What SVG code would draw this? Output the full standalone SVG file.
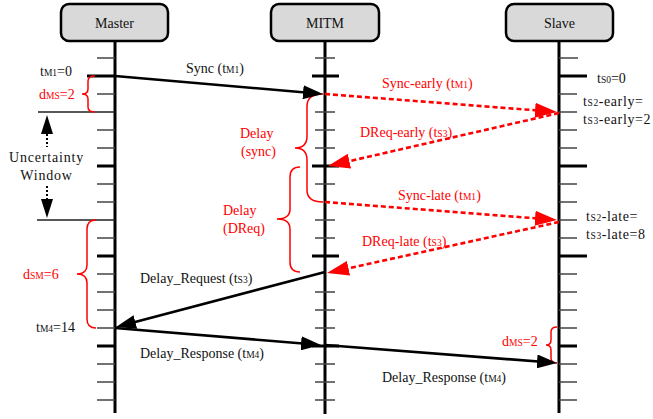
<svg xmlns="http://www.w3.org/2000/svg" width="653" height="419" viewBox="0 0 653 419" font-family="'Liberation Serif', 'DejaVu Serif', 'Times New Roman', Times, serif">
  <style>
    text { font-size: 14px; fill: #111; }
    .red { fill: #ff0000; }
    .sub { font-size: 9.5px; }
    .hdr rect { fill: #d9d9d9; stroke: #000; stroke-width: 2.5; }
    .life { stroke: #000; stroke-width: 3; }
    .tick { stroke: #444; stroke-width: 1.5; }
    .major { stroke: #000; stroke-width: 3; }
    .guide { stroke: #222; stroke-width: 1.3; }
    .msg { stroke: #000; stroke-width: 2.6; fill: none; }
    .atk { stroke: #ff0000; stroke-width: 2.6; fill: none; stroke-dasharray: 5 3; }
    .brace { stroke: #ff0000; stroke-width: 1.5; fill: none; }
  </style>
  <defs>
    <marker id="ah" markerUnits="userSpaceOnUse" markerWidth="20" markerHeight="14" refX="14" refY="7" orient="auto">
      <path d="M0,0 L20,7 L0,14 z" fill="#000"/>
    </marker>
    <marker id="ahr" markerUnits="userSpaceOnUse" markerWidth="22" markerHeight="15" refX="16" refY="7.5" orient="auto">
      <path d="M0,0 L22,7.5 L0,15 z" fill="#ff0000"/>
    </marker>
  </defs>

  <!-- Master -->
  <g id="master">
    <g class="hdr"><rect x="61" y="4" width="107" height="37" rx="8"/></g>
    <text x="114.5" y="28" text-anchor="middle">Master</text>
    <line class="life" x1="115" y1="41" x2="115" y2="413"/>
    <path class="tick" d="M97,58H115 M97,94H115 M97,130H115 M97,148H115 M97,184H115 M97,202H115 M97,238H115 M97,274H115 M97,292H115 M97,310H115 M97,328H115 M97,364H115 M97,382H115 M97,400H115"/>
    <path class="major" d="M87,76H115 M97,166H115 M97,256H115 M97,346H115"/>
    <path class="guide" d="M38,112H115 M37,220H115"/>
    <text x="40" y="76">t<tspan class="sub">M1</tspan>=0</text>
    <text x="39" y="99" class="red">d<tspan class="sub">MS</tspan>=2</text>
    <text x="23" y="279" class="red">d<tspan class="sub">SM</tspan>=6</text>
    <text x="36" y="332">t<tspan class="sub">M4</tspan>=14</text>
    <path class="brace" d="M95,76 Q88,76 88,81 L88,89 Q88,94 82,94 Q88,94 88,99 L88,107 Q88,112 95,112"/>
    <path class="brace" d="M96,220 Q87,220 87,229 L87,265 Q87,274 77,274 Q87,274 87,283 L87,319 Q87,328 96,328"/>
  </g>

  <!-- Uncertainty window -->
  <g id="uncertainty">
    <path d="M47,115 L53,134 L41,134 z" fill="#000"/>
    <line x1="47" y1="134" x2="47" y2="147" stroke="#000" stroke-width="2" stroke-dasharray="2 2"/>
    <text x="46.5" y="162" text-anchor="middle" font-size="15" letter-spacing="0.8">Uncertainty</text>
    <text x="46.5" y="180" text-anchor="middle" font-size="15" letter-spacing="0.8">Window</text>
    <line x1="47" y1="186" x2="47" y2="200" stroke="#000" stroke-width="2" stroke-dasharray="2 2"/>
    <path d="M47,218 L53,199 L41,199 z" fill="#000"/>
  </g>

  <!-- MITM -->
  <g id="mitm">
    <g class="hdr"><rect x="271" y="4" width="108" height="37" rx="8"/></g>
    <text x="325" y="28" text-anchor="middle">MITM</text>
    <line class="life" x1="325" y1="41" x2="325" y2="414"/>
    <path class="tick" d="M315,58H335 M315,112H335 M315,130H335 M315,148H335 M315,184H335 M315,220H335 M315,238H335 M315,292H335 M315,310H335 M315,328H335 M315,364H335 M315,382H335 M315,400H335"/>
    <path class="major" d="M312,76H339 M312,166H339 M312,256H339 M312,346H339"/>
    <path class="brace" d="M323,94 Q307,94 307,106 L307,136 Q307,148 295,148 Q307,148 307,160 L307,190 Q307,202 323,202"/>
    <path class="brace" d="M300,167 Q290,167 290,177 L290,209 Q290,219 277,219 Q290,219 290,229 L290,262 Q290,272 300,272"/>
    <text x="240" y="138" class="red">Delay</text>
    <text x="241" y="156" class="red">(sync)</text>
    <text x="223" y="215" class="red">Delay</text>
    <text x="223" y="233" class="red">(DReq)</text>
  </g>

  <!-- Slave -->
  <g id="slave">
    <g class="hdr"><rect x="506" y="4" width="107" height="37" rx="8"/></g>
    <text x="559.5" y="28" text-anchor="middle">Slave</text>
    <line class="life" x1="559" y1="41" x2="559" y2="413"/>
    <path class="tick" d="M559,58H578 M559,94H577 M559,112H577 M559,130H577 M559,148H577 M559,184H577 M559,202H577 M559,220H577 M559,238H577 M559,274H577 M559,292H577 M559,310H577 M559,328H577 M559,364H577 M559,382H577 M559,400H577"/>
    <path class="major" d="M559,76H587 M559,166H587 M559,256H587 M559,346H577"/>
    <text x="597" y="83">t<tspan class="sub">S0</tspan>=0</text>
    <text x="583" y="106" letter-spacing="0.6">t<tspan class="sub">S2</tspan>-early=</text>
    <text x="583" y="124" letter-spacing="0.6">t<tspan class="sub">S3</tspan>-early=2</text>
    <text x="586" y="221" letter-spacing="0.6">t<tspan class="sub">S2</tspan>-late=</text>
    <text x="586" y="239" letter-spacing="0.6">t<tspan class="sub">S3</tspan>-late=8</text>
    <text x="502" y="346" class="red">d<tspan class="sub">MS</tspan>=2</text>
    <path class="brace" d="M557,327 Q551,327 551,332 L551,340 Q551,345 546,345 Q551,345 551,350 L551,358 Q551,363 557,363"/>
  </g>

  <!-- Messages -->
  <g id="connectors">
    <line class="msg" x1="115" y1="76" x2="317" y2="93.5" marker-end="url(#ah)"/>
    <line class="atk" x1="325" y1="94" x2="551" y2="111.5" marker-end="url(#ahr)"/>
    <line class="atk" x1="559" y1="113" x2="333.8" y2="164.7" marker-end="url(#ahr)"/>
    <line class="atk" x1="325" y1="202" x2="551" y2="219.5" marker-end="url(#ahr)"/>
    <line class="atk" x1="559" y1="222" x2="332.9" y2="271.7" marker-end="url(#ahr)"/>
    <line class="msg" x1="325" y1="272" x2="121.8" y2="325.5" marker-end="url(#ah)"/>
    <line class="msg" x1="115" y1="328" x2="315" y2="344.5" marker-end="url(#ah)"/>
    <line class="msg" x1="325" y1="345" x2="551" y2="362.5" marker-end="url(#ah)"/>
  </g>

  <!-- Message labels -->
  <g id="labels">
    <text x="186" y="73">Sync (t<tspan class="sub">M1</tspan>)</text>
    <text x="382" y="88" class="red">Sync-early (t<tspan class="sub">M1</tspan>)</text>
    <text x="360" y="137" class="red">DReq-early (t<tspan class="sub">S3</tspan>)</text>
    <text x="398" y="200" class="red">Sync-late (t<tspan class="sub">M1</tspan>)</text>
    <text x="362" y="246" class="red">DReq-late (t<tspan class="sub">S3</tspan>)</text>
    <text x="140" y="283">Delay_Request (t<tspan class="sub">S3</tspan>)</text>
    <text x="140" y="358">Delay_Response (t<tspan class="sub">M4</tspan>)</text>
    <text x="382" y="382">Delay_Response (t<tspan class="sub">M4</tspan>)</text>
  </g>
</svg>
